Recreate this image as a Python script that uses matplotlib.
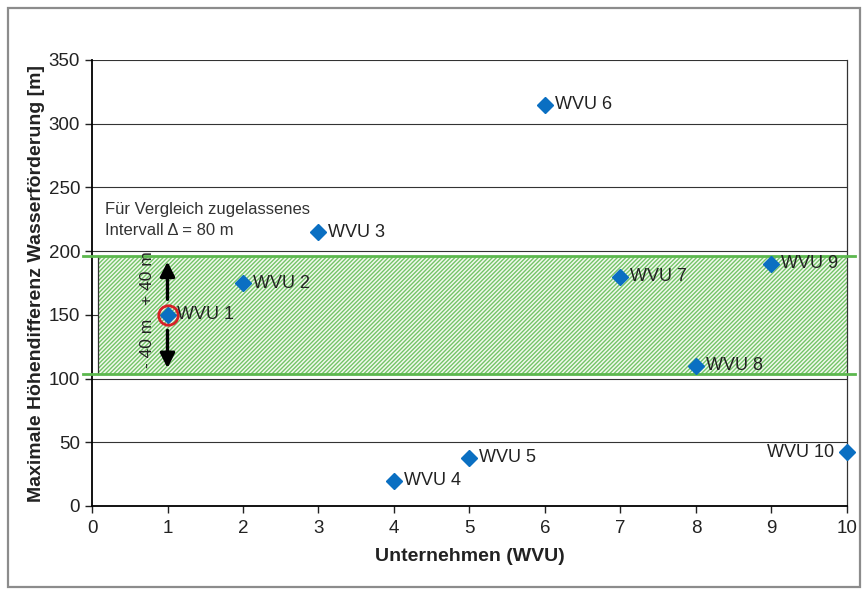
import matplotlib
matplotlib.use("Agg")
import matplotlib.pyplot as plt
from matplotlib.patches import Rectangle

plt.rcParams['font.family'] = ['Liberation Sans', 'DejaVu Sans']
plt.rcParams['hatch.linewidth'] = 1.0

companies = [1, 2, 3, 4, 5, 6, 7, 8, 9, 10]
values = [150, 175, 215, 20, 38, 315, 180, 110, 190, 42]
labels = ["WVU 1", "WVU 2", "WVU 3", "WVU 4", "WVU 5", "WVU 6", "WVU 7", "WVU 8", "WVU 9", "WVU 10"]
band_low, band_high = 103.5, 196
x_ticks = [0, 1, 2, 3, 4, 5, 6, 7, 8, 9, 10]
y_ticks = [0, 50, 100, 150, 200, 250, 300, 350]

fig = plt.figure(figsize=(8.65, 5.9), dpi=100)
ax = fig.add_axes([92/865, 84/590, 755/865, 446/590])

# outer frame
fig.patches.append(Rectangle((8/865, 3/590), 852/865, 579/590, transform=fig.transFigure,
                             fill=False, edgecolor='#8c8c8c', linewidth=1.6))

ax.set_xlim(0, 10)
ax.set_ylim(0, 350)
ax.set_xticks(x_ticks)
ax.set_yticks(y_ticks)
for y in y_ticks[1:]:
    ax.axhline(y, color='#333333', linewidth=0.8, zorder=1)

# hatched band
ax.add_patch(Rectangle((0.08, band_low), 10 - 0.08, band_high - band_low,
                       facecolor='#f2f9ee', hatch='////////', edgecolor='#74c468',
                       linewidth=0, zorder=2))
ax.plot([0.08, 0.08], [band_low, band_high], color='#333333', linewidth=0.9, zorder=3)
for yb in (band_low, band_high):
    ax.plot([-0.12, 10.1], [yb, yb], color='#5cb84e', linewidth=2, zorder=3, clip_on=False)

# arrows
ax.annotate('', xy=(1, 194), xytext=(1, 160),
            arrowprops=dict(arrowstyle='-|>', color='black', lw=2.4, mutation_scale=22), zorder=5)
ax.annotate('', xy=(1, 106), xytext=(1, 140),
            arrowprops=dict(arrowstyle='-|>', color='black', lw=2.4, mutation_scale=22), zorder=5)
ax.text(0.74, 179, '+ 40 m', rotation=90, ha='center', va='center', fontsize=12.5, color='#222222', zorder=5)
ax.text(0.74, 128, '- 40 m', rotation=90, ha='center', va='center', fontsize=12.5, color='#222222', zorder=5)

ax.text(0.17, 233, 'Für Vergleich zugelassenes', ha='left', va='center', fontsize=12, color='#333333')
ax.text(0.17, 216, 'Intervall Δ = 80 m', ha='left', va='center', fontsize=12, color='#333333')

# points
ax.plot(companies, values, linestyle='none', marker='D', markersize=8,
        color='#0a6fc2', zorder=6, clip_on=False)
ax.plot([companies[0]], [values[0]], linestyle='none', marker='o', markersize=14,
        markerfacecolor='none', markeredgecolor='#d62027', markeredgewidth=2, zorder=7)

for xv, yv, lab in zip(companies, values, labels):
    if xv == 10:
        ax.annotate(lab, (xv, yv), xytext=(-9, 0), textcoords='offset points',
                    ha='right', va='center', fontsize=13, color='#222222', zorder=8)
    else:
        ax.annotate(lab, (xv, yv), xytext=(7, 0), textcoords='offset points',
                    ha='left', va='center', fontsize=13, color='#222222', zorder=8)

for s in ['left', 'bottom']:
    ax.spines[s].set_linewidth(1.3)
    ax.spines[s].set_color('black')
for s in ['top', 'right']:
    ax.spines[s].set_linewidth(0.9)
    ax.spines[s].set_color('#333333')
ax.spines['top'].set_visible(False)
ax.tick_params(axis='both', direction='out', length=5, width=1, labelsize=13.5, colors='#222222')
ax.tick_params(axis='x', pad=5)

ax.set_xlabel('Unternehmen (WVU)', fontsize=14, fontweight='bold', color='#222222', labelpad=8)
ax.set_ylabel('Maximale Höhendifferenz Wasserförderung [m]', fontsize=14, fontweight='bold',
              color='#222222', labelpad=3)

fig.savefig('out.png', dpi=100)
